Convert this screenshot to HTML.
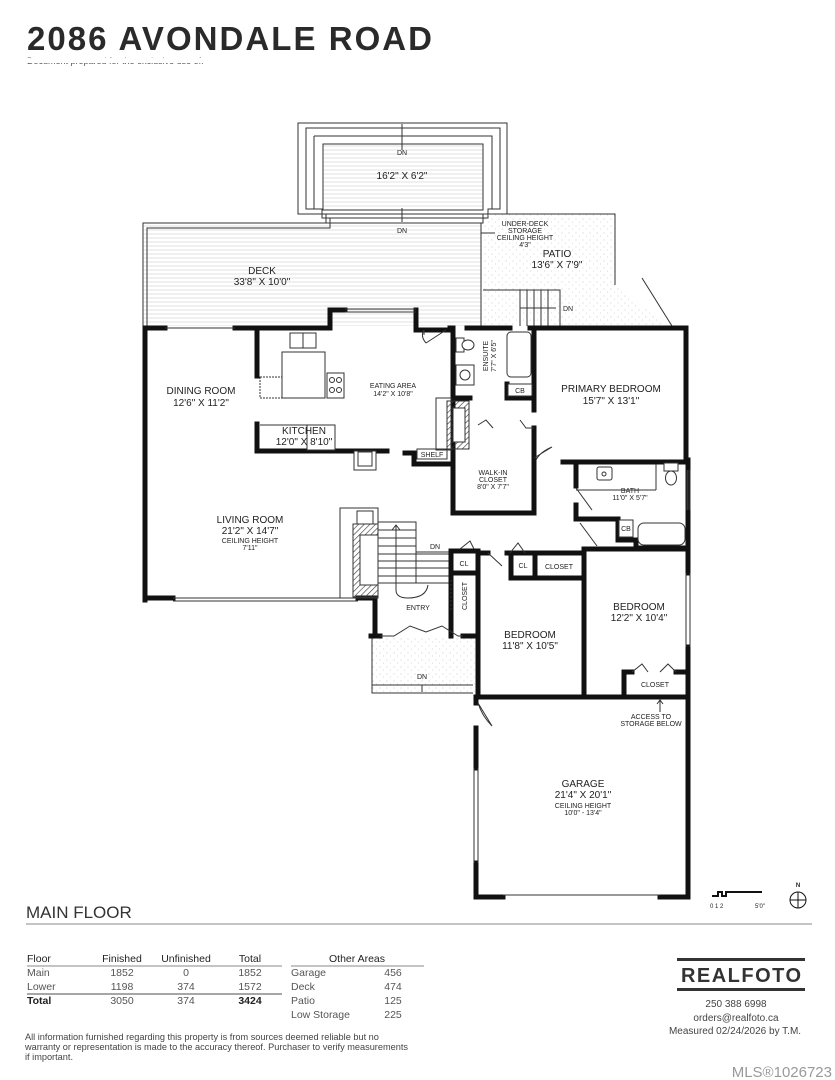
<!DOCTYPE html>
<html><head><meta charset="utf-8"><style>
html,body{margin:0;padding:0;background:#fff}
svg{display:block}
text{font-family:"Liberation Sans",sans-serif;fill:#222}
.l{font-size:10px;text-anchor:middle}
.s{font-size:7px;text-anchor:middle}
.w{stroke:#111;stroke-width:5;fill:none;stroke-linecap:square}
.t{stroke:#333;stroke-width:1;fill:none}
.tf{stroke:#333;stroke-width:1;fill:#fff}
</style></head><body>
<svg width="835" height="1080" viewBox="0 0 835 1080" xmlns="http://www.w3.org/2000/svg">
<defs>
<pattern id="deck" width="6" height="4" patternUnits="userSpaceOnUse"><line x1="0" y1="2" x2="6" y2="2" stroke="#e2e2e2" stroke-width="1"/></pattern>
<pattern id="hatch" width="4" height="4" patternUnits="userSpaceOnUse" patternTransform="rotate(45)"><line x1="0" y1="0" x2="0" y2="4" stroke="#333" stroke-width="1.2"/></pattern>
<pattern id="dots" width="7" height="7" patternUnits="userSpaceOnUse"><circle cx="2" cy="2" r="0.5" fill="#bbb"/><circle cx="5.5" cy="5" r="0.5" fill="#ccc"/></pattern>
</defs>
<text x="27" y="50" font-size="33" font-weight="bold" textLength="405" style="fill:#2a2a2a">2086 AVONDALE ROAD</text>
<text x="27" y="64" font-size="9" style="fill:#555">Document prepared for the exclusive use of:</text>
<rect x="0" y="58" width="835" height="5" fill="#fff"/>

<path class="t" d="M298 123 H507 V214 H483 V223 H326 V214 H298 Z"/>
<path class="t" d="M306 128 H500 V209 H488 V218 H322 V209 H306 Z"/>
<path class="t" d="M314 136 H492 V209 M314 136 V209"/>
<rect x="323" y="144" width="160" height="66" fill="url(#deck)" stroke="#333"/>
<line class="t" x1="326" y1="214" x2="483" y2="214"/>
<rect x="143" y="223" width="338" height="103" fill="url(#deck)"/>
<path class="t" d="M143 326 V223 H326 M481 223 V326 M147 326 V228 H330 V218"/>
<line class="t" x1="402" y1="124" x2="402" y2="150"/><line class="t" x1="402" y1="208" x2="402" y2="222"/>
<path d="M483 214 H615 V285 L668 326 H483 Z" fill="url(#dots)" stroke="none"/>
<path class="t" d="M483 214 H615 V285 M642 278 L672 326"/>
<path class="t" d="M483 290 H560 V326 M520 290 V326 M527 290 V326 M534 290 V326 M541 290 V326 M548 290 V326"/>
<line class="t" x1="520" y1="308" x2="556" y2="308"/>
<line class="t" x1="481" y1="233" x2="495" y2="233"/>

<path class="w" d="M145 600 V328 H165 M235 328 H330 V310 H345 M416 310 H416 V330 H450 V328 M467 328 H510 M530 328 H668 H686 V460"/>
<line class="t" x1="165" y1="328" x2="235" y2="328"/><line class="t" x1="345" y1="309" x2="416" y2="309"/><line class="t" x1="345" y1="312" x2="416" y2="312"/>
<path class="w" d="M145 598 H173 M358 598 H375 V636 M371 636 H378"/>
<line class="t" x1="173" y1="598" x2="358" y2="598"/><line class="t" x1="173" y1="601" x2="358" y2="601"/>

<path class="w" d="M257 330 V376"/>
<path class="w" d="M257 424 V451 H387"/>
<rect class="tf" x="282" y="352" width="43" height="46"/>
<rect class="tf" x="290" y="333" width="26" height="15"/><line class="t" x1="303" y1="333" x2="303" y2="348"/>
<rect class="tf" x="327" y="373" width="17" height="25"/>
<circle class="t" cx="332" cy="380" r="2.5"/><circle class="t" cx="339" cy="380" r="2.5"/><circle class="t" cx="332" cy="390" r="2.5"/><circle class="t" cx="339" cy="390" r="2.5"/>
<rect x="260" y="377" width="22" height="21" fill="none" stroke="#333" stroke-dasharray="2 1"/>
<rect class="tf" x="307" y="425" width="28" height="25"/>
<line class="t" x1="260" y1="425" x2="307" y2="425"/>
<rect class="tf" x="354" y="451" width="22" height="19"/><rect class="t" x="358" y="452" width="14" height="14"/>
<path class="w" d="M405 453 H414 V464 H452"/>
<rect class="tf" x="417" y="449" width="30" height="10"/>
<text class="s" x="432" y="457">SHELF</text>
<path class="t" d="M424 330 L424 335 M426 343 L446 330 M426 343 Q420 336 424 330"/>

<path class="w" d="M453 328 V464 M534 328 V398 M453 398 H470"/>
<path class="w" d="M507 384 V398 H534"/>
<rect class="tf" x="508" y="384" width="24" height="12"/><text class="s" x="520" y="393">CB</text>
<rect class="tf" x="507" y="332" width="24" height="45" rx="4"/>
<rect class="tf" x="456" y="338" width="8" height="14"/><ellipse class="tf" cx="468" cy="345" rx="6" ry="5"/>
<rect class="tf" x="456" y="365" width="18" height="20"/><circle class="t" cx="465" cy="375" r="5"/>
<text class="s" transform="translate(488,356) rotate(-90)">ENSUITE</text>
<text class="s" transform="translate(496,356) rotate(-90)">7'7" X 6'5"</text>
<rect class="t" x="436" y="398" width="15" height="52"/>
<rect x="447" y="401" width="22" height="48" fill="url(#hatch)" stroke="#333"/>
<rect x="453" y="408" width="12" height="34" fill="#fff" stroke="#333"/>
<path class="w" d="M453 464 V513 H534 V428"/>
<path class="t" d="M478 425 L486 420 L493 428 M520 420 L526 428 L534 428"/>
<path class="t" d="M534 458 L552 447 M536 460 Q540 452 552 447"/>
<path class="w" d="M534 398 V410"/>
<path class="w" d="M563 462 H686 M576 462 V486 M576 505 V519 H618 M618 519 V540 H636 V548 H688 M688 460 V548"/>
<path class="t" d="M576 488 L592 510"/>
<rect class="tf" x="597" y="467" width="15" height="13" rx="2"/><circle class="t" cx="604" cy="474" r="2"/>
<rect class="tf" x="664" y="463" width="14" height="8"/><ellipse class="tf" cx="671" cy="478" rx="5.5" ry="7"/>
<line class="t" x1="576" y1="490" x2="656" y2="490"/><line class="t" x1="656" y1="464" x2="656" y2="490"/>
<rect class="tf" x="619" y="520" width="14" height="17"/><text class="s" x="626" y="531">CB</text>
<rect class="tf" x="638" y="523" width="47" height="22" rx="6"/>
<line class="t" x1="688" y1="470" x2="688" y2="510" stroke="#fff" stroke-width="3"/>
<path class="t" d="M687 470 V510 M690 470 V510"/>

<rect class="t" x="340" y="508" width="38" height="90"/>
<rect x="353" y="524" width="25" height="73" fill="url(#hatch)" stroke="#333"/>
<rect x="360" y="535" width="18" height="50" fill="#fff" stroke="#333"/>
<rect class="t" x="357" y="511" width="16" height="13"/>
<path class="t" d="M378 522 H416 V552 H451 M378 530 H416 M378 538 H416 M378 546 H416 M378 554 H451 M378 561 H451 M378 568 H451 M378 576 H451 M378 583 H451 M416 552 V583"/>
<path class="t" d="M396 590 V525 M392 530 L396 525 L400 530 M396 590 Q396 598 408 598 Q426 598 428 585"/>
<path class="w" d="M451 551 V636 M451 551 H478 M451 573 H478 M478 551 V697"/>
<text class="s" x="464" y="566">CL</text>
<text class="s" transform="translate(467,596) rotate(-90)">CLOSET</text>
<path class="t" d="M460 549 L470 541 L474 549"/>
<line class="t" x1="451" y1="580" x2="451" y2="612" stroke-dasharray="2 2"/>
<path class="w" d="M480 553 H488 M507 553 H584 M511 553 V578 H535 V553 M535 578 H584"/>
<path class="t" d="M488 553 L502 566 M510 553 L518 543 L525 553"/>
<text class="s" x="523" y="568">CL</text><text class="s" x="559" y="569">CLOSET</text>
<path class="w" d="M584 553 V697 M584 549 H598 M598 549 H688 V573 M688 647 V697"/>
<path class="t" d="M686 573 V647 M690 573 V647"/>
<path class="t" d="M580 523 L597 546"/>
<path class="w" d="M375 636 H380 M463 636 H476"/>
<path class="t" d="M380 636 H394 L410 626 L426 632 L442 626 L458 636 H463"/>
<rect x="372" y="638" width="103" height="55" fill="url(#dots)"/>
<path class="t" d="M372 638 V693 H473 M372 685 H473"/>
<path class="t" d="M422 685 V692"/>
<path class="w" d="M624 697 V672 H632 M676 672 H686"/>
<path class="t" d="M632 672 L642 664 L648 672 M660 672 L668 664 L676 672"/>
<text class="s" x="655" y="687">CLOSET</text>
<path class="w" d="M476 697 H688 V897 H660 M476 697 V703 M476 728 V768 M476 863 V897 H503"/>
<path class="t" d="M474 768 V863 M478 768 V863 M503 895 H660"/>
<path class="t" d="M478 703 L492 726 Q482 716 478 703"/>
<path class="t" d="M660 712 V700 M657 704 L660 700 L663 704"/>

<text class="s" x="402" y="155">DN</text>
<text class="l" x="402" y="179">16'2" X 6'2"</text>
<text class="s" x="402" y="233">DN</text>
<text class="s" x="525" y="226">UNDER-DECK</text><text class="s" x="525" y="233">STORAGE</text><text class="s" x="525" y="240">CEILING HEIGHT</text><text class="s" x="525" y="247">4'3"</text>
<text class="l" x="557" y="257">PATIO</text><text class="l" x="557" y="268">13'6" X 7'9"</text>
<text class="s" x="568" y="311">DN</text>
<text class="l" x="262" y="274">DECK</text><text class="l" x="262" y="285">33'8" X 10'0"</text>
<text class="l" x="201" y="394">DINING ROOM</text><text class="l" x="201" y="406">12'6" X 11'2"</text>
<text class="l" x="304" y="434">KITCHEN</text><text class="l" x="304" y="445">12'0" X 8'10"</text>
<text class="s" x="393" y="388">EATING AREA</text><text class="s" x="393" y="396">14'2" X 10'8"</text>
<text class="l" x="611" y="392">PRIMARY BEDROOM</text><text class="l" x="611" y="404">15'7" X 13'1"</text>
<text class="s" x="493" y="475">WALK-IN</text><text class="s" x="493" y="482">CLOSET</text><text class="s" x="493" y="489">8'0" X 7'7"</text>
<text class="s" x="630" y="493">BATH</text><text class="s" x="630" y="500">11'0" X 5'7"</text>
<text class="l" x="250" y="523">LIVING ROOM</text><text class="l" x="250" y="534">21'2" X 14'7"</text>
<text class="s" x="250" y="543">CEILING HEIGHT</text><text class="s" x="250" y="550">7'11"</text>
<text class="s" x="435" y="549">DN</text>
<text class="s" x="418" y="610">ENTRY</text>
<text class="l" x="639" y="610">BEDROOM</text><text class="l" x="639" y="621">12'2" X 10'4"</text>
<text class="l" x="530" y="638">BEDROOM</text><text class="l" x="530" y="649">11'8" X 10'5"</text>
<text class="s" x="422" y="679">DN</text>
<text class="s" x="651" y="719">ACCESS TO</text><text class="s" x="651" y="726">STORAGE BELOW</text>
<text class="l" x="583" y="787">GARAGE</text><text class="l" x="583" y="798">21'4" X 20'1"</text>
<text class="s" x="583" y="808">CEILING HEIGHT</text><text class="s" x="583" y="815">10'0" - 13'4"</text>

<path d="M712 896 H718 V892 H722 V896 H726 V892 H762" stroke="#111" stroke-width="2" fill="none"/>
<text x="710" y="908" font-size="6">0 1 2</text><text x="755" y="908" font-size="6">5'0"</text>
<circle cx="798" cy="900" r="8" fill="none" stroke="#111"/><line x1="798" y1="892" x2="798" y2="908" stroke="#111"/><line x1="790" y1="900" x2="806" y2="900" stroke="#111"/>
<text x="798" y="887" font-size="6" text-anchor="middle" font-weight="bold">N</text>

<text x="26" y="918" font-size="17" style="fill:#333">MAIN FLOOR</text>
<line x1="26" y1="924" x2="812" y2="924" stroke="#888"/>
<g font-size="10.5">
<text x="27" y="962">Floor</text><text x="122" y="962" text-anchor="middle">Finished</text><text x="186" y="962" text-anchor="middle">Unfinished</text><text x="250" y="962" text-anchor="middle">Total</text>
<text x="27" y="976" style="fill:#555">Main</text><text x="122" y="976" text-anchor="middle" style="fill:#555">1852</text><text x="186" y="976" text-anchor="middle" style="fill:#555">0</text><text x="250" y="976" text-anchor="middle" style="fill:#555">1852</text>
<text x="27" y="990" style="fill:#555">Lower</text><text x="122" y="990" text-anchor="middle" style="fill:#555">1198</text><text x="186" y="990" text-anchor="middle" style="fill:#555">374</text><text x="250" y="990" text-anchor="middle" style="fill:#555">1572</text>
<text x="27" y="1004" font-weight="bold">Total</text><text x="122" y="1004" text-anchor="middle" style="fill:#555">3050</text><text x="186" y="1004" text-anchor="middle" style="fill:#555">374</text><text x="250" y="1004" text-anchor="middle" font-weight="bold">3424</text>
<text x="357" y="962" text-anchor="middle">Other Areas</text>
<text x="291" y="976" style="fill:#555">Garage</text><text x="393" y="976" text-anchor="middle" style="fill:#555">456</text>
<text x="291" y="990" style="fill:#555">Deck</text><text x="393" y="990" text-anchor="middle" style="fill:#555">474</text>
<text x="291" y="1004" style="fill:#555">Patio</text><text x="393" y="1004" text-anchor="middle" style="fill:#555">125</text>
<text x="291" y="1018" style="fill:#555">Low Storage</text><text x="393" y="1018" text-anchor="middle" style="fill:#555">225</text>
</g>
<line x1="27" y1="966" x2="282" y2="966" stroke="#888"/><line x1="27" y1="994" x2="282" y2="994" stroke="#888" stroke-width="1.5"/>
<line x1="291" y1="966" x2="424" y2="966" stroke="#888"/>
<g font-size="9.2">
<text x="25" y="1040" style="fill:#444">All information furnished regarding this property is from sources deemed reliable but no</text>
<text x="25" y="1050" style="fill:#444">warranty or representation is made to the accuracy thereof. Purchaser to verify measurements</text>
<text x="25" y="1060" style="fill:#444">if important.</text>
</g>
<rect x="677" y="958" width="128" height="3" fill="#333"/><rect x="677" y="988" width="128" height="3" fill="#333"/>
<text x="741" y="982" font-size="20" font-weight="bold" text-anchor="middle" textLength="120" style="fill:#333">REALFOTO</text>
<text x="736" y="1007" font-size="10" text-anchor="middle" style="fill:#444">250 388 6998</text>
<text x="736" y="1021" font-size="10" text-anchor="middle" style="fill:#444">orders@realfoto.ca</text>
<text x="735" y="1034" font-size="10" text-anchor="middle" style="fill:#444">Measured 02/24/2026 by T.M.</text>
<text x="832" y="1077" font-size="15" text-anchor="end" style="fill:#999">MLS®1026723</text>
</svg>
</body></html>
